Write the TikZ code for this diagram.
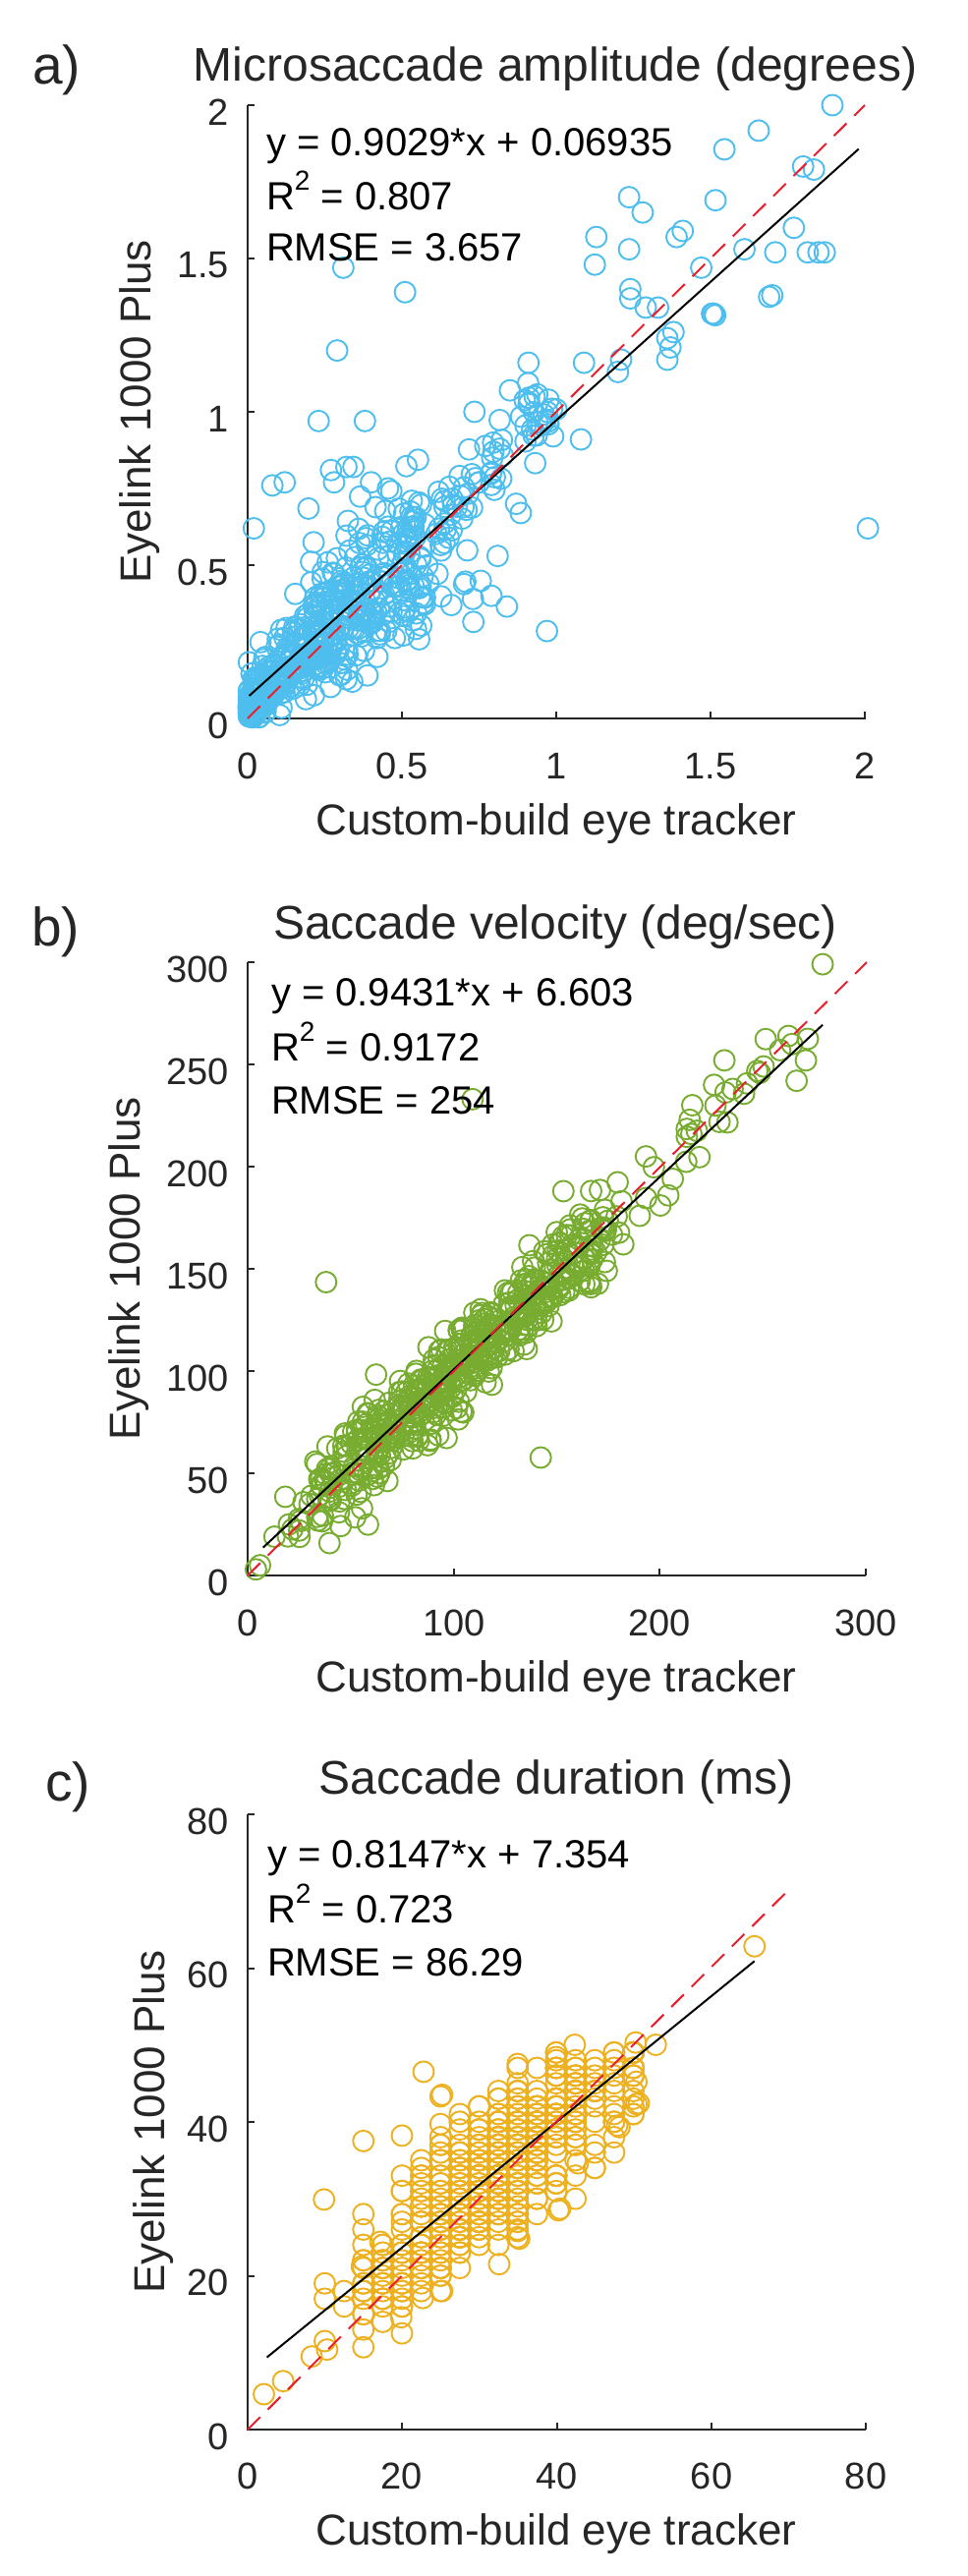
\documentclass[tikz,border=0pt]{standalone}
\usepackage{fontspec}
\setmainfont{Liberation Sans}
\definecolor{tc}{HTML}{262626}
\definecolor{ca}{HTML}{4DBEEE}
\definecolor{cb}{HTML}{77AC30}
\definecolor{cc}{HTML}{EDB120}
\definecolor{rd}{HTML}{E8202E}
\newcommand{\fsTitle}{\fontsize{48}{54}\selectfont}
\newcommand{\fsLab}{\fontsize{44}{50}\selectfont}
\newcommand{\fsTick}{\fontsize{38}{44}\selectfont}
\newcommand{\fsAnn}{\fontsize{40}{46}\selectfont}
\newcommand{\fsLet}{\fontsize{55}{60}\selectfont}
\newcommand{\sqtwo}{\raisebox{0.5em}{\fontsize{28}{28}\selectfont 2}}
\tikzset{
  txt/.style={inner sep=0pt,outer sep=0pt,text=tc},
  ttl/.style={txt,font=\fsTitle,anchor=base},
  xlab/.style={txt,font=\fsLab,anchor=base},
  ylab/.style={txt,font=\fsLab,anchor=base,rotate=90},
  ytk/.style={txt,font=\fsTick,anchor=east},
  xtk/.style={txt,font=\fsTick,anchor=north},
  ann/.style={inner sep=0pt,outer sep=0pt,text=black,font=\fsAnn,anchor=base west},
  plab/.style={txt,font=\fsLet,anchor=base west},
  ax/.style={draw=tc,line width=2pt},
  fitl/.style={draw=black,line width=2pt},
  idl/.style={draw=rd,line width=2pt,dash pattern=on 18pt off 11pt},
  mkA/.style={draw=ca,line width=1.9pt},
  mkB/.style={draw=cb,line width=1.9pt},
  mkC/.style={draw=cc,line width=1.9pt},
}
\begin{document}
\begin{tikzpicture}[x=1pt,y=-1pt]
\fill[white] (0,0) rectangle (985,2621);
\useasboundingbox (0,0) rectangle (985,2621);

% ================= Panel a =================
\coordinate (oA) at (252,731);
\coordinate (tA) at (252,107);
\coordinate (rA) at (881,731);
\draw[ax] (tA) -- (oA) -- (rA);
\foreach \v/\yy [count=\k] in {0/731,0.5/575,1/419,1.5/263,2/107}{
  \draw[ax] (252,\yy) -- ++(7,0);
  \node[ytk] (ayt\k) at (233,\yy+7) {\v};
}
\foreach \v/\xx [count=\k] in {0/252,0.5/409,1/566,1.5/723,2/880}{
  \draw[ax] (\xx,731) -- ++(0,-7);
  \node[xtk] (axt\k) at (\xx,766) {\v};
}
\begin{scope}[shift={(252,731)},x={(314pt,0pt)},y={(0pt,312pt)}]
  \pgfmathsetseed{11}
  \foreach \i in {1,...,500}{
    \pgfmathsetmacro\s{0.55*(((rand+1)/2+0.001)^1.15)}
    \pgfmathsetmacro\sd{0.02+0.2*\s}
    \pgfmathsetmacro\px{max(0.004,\s+\sd*(rand+rand+rand))}
    \pgfmathsetmacro\py{max(0.004,1.03*\s+0.02+\sd*(rand+rand+rand))}
    \draw[mkA] (\px,\py) circle[radius=10.5pt];
  }
  \foreach \i in {1,...,40}{
    \pgfmathsetmacro\s{0.72+0.18*rand}
    \pgfmathsetmacro\px{\s+0.05*(rand+rand+rand)}
    \pgfmathsetmacro\py{\s+0.02+0.06*(rand+rand+rand)}
    \draw[mkA] (\px,\py) circle[radius=10.5pt];
  }
  \foreach \i in {1,...,22}{
    \pgfmathsetmacro\px{0.95+0.04*(rand+rand+rand)}
    \pgfmathsetmacro\py{1.0+0.05*(rand+rand+rand)}
    \draw[mkA] (\px,\py) circle[radius=10.5pt];
  }
  \foreach \px/\py in {1.895/2.0,1.656/1.917,1.545/1.856,1.80/1.80,1.835/1.79,1.516/1.69,1.236/1.70,1.28/1.65,1.13/1.57,1.125/1.48,1.236/1.53,1.39/1.57,1.41/1.59,1.61/1.53,1.71/1.52,1.77/1.6,1.815/1.52,1.85/1.52,1.87/1.52,1.47/1.47,1.24/1.40,1.24/1.37,1.33/1.34,1.69/1.375,1.51/1.32,1.515/1.315,1.505/1.32,1.36/1.24,1.38/1.26,1.37/1.21,1.36/1.17,1.29/1.34,1.21/1.17,1.2/1.13,1.09/1.16,0.91/1.16,1.08/0.91,0.93/1.05,0.85/1.07,0.99/0.92,0.97/0.285,0.66/0.37,0.73/0.39,0.79/0.40,0.84/0.365,2.01/0.62,0.02/0.62,0.08/0.76,0.12/0.77,0.27/0.81,0.32/0.82,0.28/0.77,0.40/0.77,0.81/0.53,0.87/0.70,0.885/0.67,0.31/1.47,0.51/1.39,0.29/1.2,0.23/0.97,0.38/0.97,0.735/1.0,1.70/1.38}{
    \draw[mkA] (\px,\py) circle[radius=10.5pt];
  }
  \draw[fitl] (0.005,0.9029*0.005+0.06935) -- (1.98,0.9029*1.98+0.06935);
  \draw[idl] (0,0) -- (2,2);
\end{scope}
\node[ttl] (titleA) at (565,82) {Microsaccade amplitude (degrees)};
\node[plab] (letA) at (33,85) {a)};
\node[ann] (annA1) at (271,158) {y = 0.9029*x + 0.06935};
\node[ann] (annA2) at (271,213) {R\sqtwo{} = 0.807};
\node[ann] (annA3) at (271,265) {RMSE = 3.657};
\node[xlab] (xlabA) at (566,849) {Custom-build eye tracker};
\node[ylab] (ylabA) at (153,419) {Eyelink 1000 Plus};

% ================= Panel b =================
\coordinate (oB) at (252,1603);
\coordinate (tB) at (252,979);
\coordinate (rB) at (881,1603);
\draw[ax] (tB) -- (oB) -- (rB);
\foreach \v/\yy [count=\k] in {0/1603,50/1499,100/1395,150/1291,200/1187,250/1083,300/979}{
  \draw[ax] (252,\yy) -- ++(7,0);
  \node[ytk] (byt\k) at (233,\yy+7) {\v};
}
\foreach \v/\xx [count=\k] in {0/252,100/462,200/671,300/881}{
  \draw[ax] (\xx,1603) -- ++(0,-7);
  \node[xtk] (bxt\k) at (\xx,1638) {\v};
}
\begin{scope}[shift={(252,1603)},x={(2.1pt,0pt)},y={(0pt,2.08pt)}]
  \pgfmathsetseed{23}
  \foreach \i in {1,...,300}{
    \pgfmathsetmacro\s{105+75*rand}
    \pgfmathsetmacro\px{\s+6*(rand+rand+rand)}
    \pgfmathsetmacro\py{0.96*\s+4+10*(rand+rand+rand)}
    \draw[mkB] (\px,\py) circle[radius=10.5pt];
  }
  \foreach \i in {1,...,230}{
    \pgfmathsetmacro\s{min(205,max(25,100+35*(rand+rand+rand)))}
    \pgfmathsetmacro\px{\s+6*(rand+rand+rand)}
    \pgfmathsetmacro\py{0.96*\s+4+8*(rand+rand+rand)}
    \draw[mkB] (\px,\py) circle[radius=10.5pt];
  }
  \foreach \i in {1,...,20}{
    \pgfmathsetmacro\s{225+40*rand}
    \pgfmathsetmacro\px{\s+5*(rand+rand+rand)}
    \pgfmathsetmacro\py{\s+7*(rand+rand+rand)}
    \draw[mkB] (\px,\py) circle[radius=10.5pt];
  }
  \foreach \px/\py in {38/143.5,142/57.7,109/233,278.6/299,6/5,4/3,13/19,231/252,270.5/252,271.4/262.5,266/242,235/238,153/188,174/149,182/162,206/194,193/205,140/122,134/113,226/240,215/216,250/249,258/257,200/181,20/25,25/22,30/35}{
    \draw[mkB] (\px,\py) circle[radius=10.5pt];
  }
  \draw[fitl] (7.5,0.9431*7.5+6.603) -- (278.6,0.9431*278.6+6.603);
  \draw[idl] (0,0) -- (300,300);
\end{scope}
\node[ttl] (titleB) at (565,955) {Saccade velocity (deg/sec)};
\node[plab] (letB) at (32,962) {b)};
\node[ann] (annB1) at (276,1023) {y = 0.9431*x + 6.603};
\node[ann] (annB2) at (276,1079) {R\sqtwo{} = 0.9172};
\node[ann] (annB3) at (276,1133) {RMSE = 254};
\node[xlab] (xlabB) at (566,1721) {Custom-build eye tracker};
\node[ylab] (ylabB) at (142,1291) {Eyelink 1000 Plus};

% ================= Panel c =================
\coordinate (oC) at (252,2472);
\coordinate (tC) at (252,1846);
\coordinate (rC) at (881,2472);
\draw[ax] (tC) -- (oC) -- (rC);
\foreach \v/\yy [count=\k] in {0/2472,20/2315.5,40/2159,60/2002.5,80/1846}{
  \draw[ax] (252,\yy) -- ++(7,0);
  \node[ytk] (cyt\k) at (233,\yy+7) {\v};
}
\foreach \v/\xx [count=\k] in {0/252,20/409,40/566.5,60/724,80/881}{
  \draw[ax] (\xx,2472) -- ++(0,-7);
  \node[xtk] (cxt\k) at (\xx,2506) {\v};
}
\begin{scope}[shift={(252,2472)},x={(7.85pt,0pt)},y={(0pt,7.83pt)}]
  \pgfmathsetseed{37}
  \foreach \i in {1,...,560}{
    \pgfmathsetmacro\s{min(50,max(16,33+8.5*(rand+rand+rand)))}
    \pgfmathsetmacro\px{2.5*round(\s/2.5)}
    \pgfmathsetmacro\py{min(49,round(0.8147*\px+7.35+4.6*(rand+rand+rand)))}
    \draw[mkC] (\px,\py) circle[radius=10.5pt];
  }
  \foreach \px/\py in {9.9/29.9,15/37.5,20/38.2,15/10.7,8.3/9.5,10.3/10.4,10/11.5,2.1/4.6,4.6/6.3,10/19,10/17,12.5/16,12.5/18,14.8/21.2,17.2/24.4,19.9/14.6,22.7/17.1,25.2/18,32.6/21.5,40.3/28.5,35.2/24.8,35/25.8,22.8/46.5,25/43.3,25.2/43.5,25/39.7,65.7/62.8,50.3/50.3,52.9/50,50.4/45.2,50.7/42.4,47.9/39.5,48.2/39.3,50.4/42.3,42.8/34.6,40.5/28.7,35/47.5,40/48.4,42.4/50,20/12.5}{
    \draw[mkC] (\px,\py) circle[radius=10.5pt];
  }
  \draw[fitl] (2.5,0.8147*2.5+7.354) -- (65.7,0.8147*65.7+7.354);
  \draw[idl] (0,0) -- (70,70);
\end{scope}
\node[ttl] (titleC) at (566,1825) {Saccade duration (ms)};
\node[plab] (letC) at (46,1832) {c)};
\node[ann] (annC1) at (272,1900) {y = 0.8147*x + 7.354};
\node[ann] (annC2) at (272,1956) {R\sqtwo{} = 0.723};
\node[ann] (annC3) at (272,2010) {RMSE = 86.29};
\node[xlab] (xlabC) at (566,2589) {Custom-build eye tracker};
\node[ylab] (ylabC) at (167,2159) {Eyelink 1000 Plus};
\end{tikzpicture}
\end{document}
